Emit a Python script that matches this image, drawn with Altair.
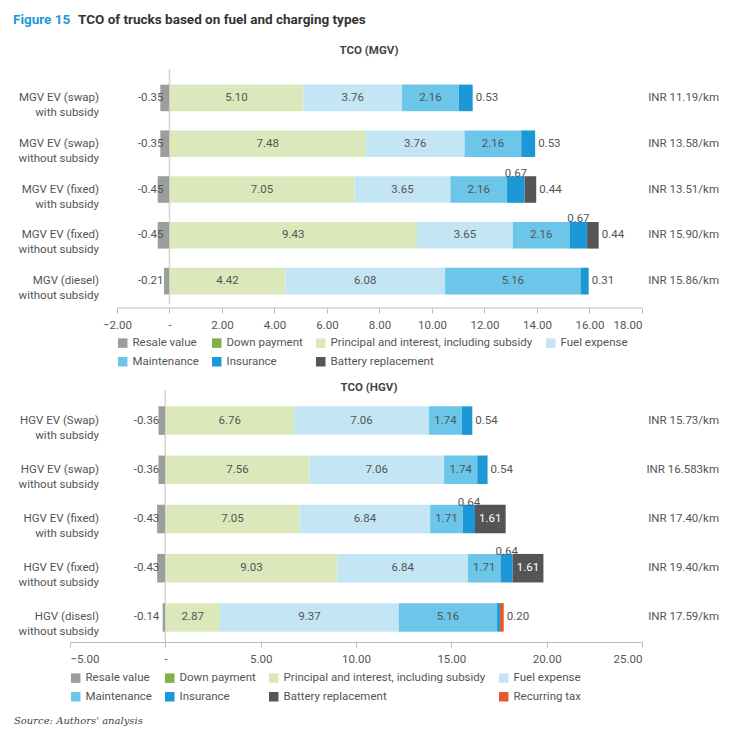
import altair as alt
import pandas as pd

FONT = "Roboto"
comps = ["Resale value", "Down payment", "Principal and interest, including subsidy",
         "Fuel expense", "Maintenance", "Insurance", "Battery replacement", "Recurring tax"]
colors = ["#9d9d9d", "#7cb342", "#dbe8bb", "#c3e5f4", "#6bc6ea", "#1b98d5", "#555555", "#e8592a"]

mgv_cats = ["MGV EV (swap)|with subsidy", "MGV EV (swap)|without subsidy", "MGV EV (fixed)|with subsidy",
            "MGV EV (fixed)|without subsidy", "MGV (diesel)|without subsidy"]
mgv_resale = [-0.35, -0.35, -0.45, -0.45, -0.21]
mgv_princ = [5.10, 7.48, 7.05, 9.43, 4.42]
mgv_fuel = [3.76, 3.76, 3.65, 3.65, 6.08]
mgv_maint = [2.16, 2.16, 2.16, 2.16, 5.16]
mgv_ins = [0.53, 0.53, 0.67, 0.67, 0.31]
mgv_batt = [0, 0, 0.44, 0.44, 0]
mgv_tax = [0, 0, 0, 0, 0]
mgv_total = ["INR 11.19/km", "INR 13.58/km", "INR 13.51/km", "INR 15.90/km", "INR 15.86/km"]

hgv_cats = ["HGV EV (Swap)|with subsidy", "HGV EV (swap)|without subsidy", "HGV EV (fixed)|with subsidy",
            "HGV EV (fixed)|without subsidy", "HGV (disesl)|without subsidy"]
hgv_resale = [-0.36, -0.36, -0.43, -0.43, -0.14]
hgv_princ = [6.76, 7.56, 7.05, 9.03, 2.87]
hgv_fuel = [7.06, 7.06, 6.84, 6.84, 9.37]
hgv_maint = [1.74, 1.74, 1.71, 1.71, 5.16]
hgv_ins = [0.54, 0.54, 0.64, 0.64, 0.15]
hgv_batt = [0, 0, 1.61, 1.61, 0]
hgv_tax = [0, 0, 0, 0, 0.20]
hgv_total = ["INR 15.73/km", "INR 16.583km", "INR 17.40/km", "INR 19.40/km", "INR 17.59/km"]


def build(cats, resale, princ, fuel, maint, ins, batt, tax):
    rows = []
    for i, c in enumerate(cats):
        vals = {"Resale value": resale[i], "Principal and interest, including subsidy": princ[i],
                "Fuel expense": fuel[i], "Maintenance": maint[i], "Insurance": ins[i],
                "Battery replacement": batt[i], "Recurring tax": tax[i]}
        for j, comp in enumerate(comps):
            v = vals.get(comp, 0)
            if v == 0:
                continue
            if comp == "Resale value":
                pos = "left"
            elif comp == "Insurance":
                pos = "above" if batt[i] > 0 else ("none" if tax[i] > 0 else "right")
            elif comp == "Battery replacement":
                pos = "right" if v < 1 else "inwhite"
            elif comp == "Recurring tax":
                pos = "right"
            else:
                pos = "in"
            rows.append({"cat": c, "comp": comp, "value": v, "order": j, "pos": pos,
                         "label": f"{v:.2f}"})
    return pd.DataFrame(rows)


def txt(t, x, y, **kw):
    return alt.Chart(pd.DataFrame({"t": [t]})).mark_text(**kw).encode(
        x=alt.value(x), y=alt.value(y), text="t:N")


def panel(title, cats, df, totals, dom, ticks, w, h, offset, base_extent, legend_x, legend_y, ncomp, footer=False):
    ysc = alt.Y("cat:N", sort=cats, axis=None, scale=alt.Scale(paddingInner=0.42, paddingOuter=0.21))
    xsc = alt.Scale(domain=dom, nice=False, zero=False)
    base = alt.Chart(df).transform_stack(
        stack="value", groupby=["cat"], as_=["v0", "v1"], sort=[alt.SortField("order")]
    ).transform_calculate(mid="(datum.v0 + datum.v1) / 2")
    bars = base.mark_bar().encode(
        x=alt.X("v0:Q", scale=xsc, axis=alt.Axis(
            values=ticks, domain=base_extent is None, domainColor="#bbbbbb", tickColor="#bbbbbb", grid=False,
            title=None, labelExpr="datum.value == 0 ? '-' : format(datum.value, '.2f')",
            labelFont=FONT, labelFontSize=11.5, labelColor="#555", offset=offset, labelPadding=6, tickSize=5)),
        x2="v1:Q", y=ysc,
        color=alt.Color("comp:N", scale=alt.Scale(domain=comps[:ncomp], range=colors[:ncomp]),
                        legend=alt.Legend(title=None, orient="none", legendX=legend_x, legendY=legend_y,
                                          columns=4, direction="horizontal", symbolType="square",
                                          symbolSize=90, symbolStrokeWidth=0, labelFont=FONT, labelFontSize=11.5,
                                          labelColor="#555", columnPadding=12, rowPadding=6, labelLimit=0)),
    )
    tprops = dict(font=FONT, fontSize=11.5)
    t_in = base.transform_filter("datum.pos == 'in'").mark_text(color="#555", **tprops).encode(
        x="mid:Q", y=ysc, text="label:N")
    t_white = base.transform_filter("datum.pos == 'inwhite'").mark_text(color="white", **tprops).encode(
        x="mid:Q", y=ysc, text="label:N")
    t_right = base.transform_filter("datum.pos == 'right'").mark_text(color="#555", align="left", dx=3, **tprops).encode(
        x="v1:Q", y=ysc, text="label:N")
    t_left = base.transform_filter("datum.pos == 'left'").mark_text(color="#555", align="right", dx=-6, **tprops).encode(
        x="v0:Q", y=ysc, text="label:N")
    t_above = base.transform_filter("datum.pos == 'above'").mark_text(color="#555", dy=-16, **tprops).encode(
        x="mid:Q", y=ysc, text="label:N")
    zero = alt.Chart(pd.DataFrame({"z": [0]})).mark_rule(color="#d5d5d5", strokeWidth=1.5).encode(
        x=alt.X("z:Q", scale=xsc), y=alt.value(-6), y2=alt.value(h))
    lab_df = pd.DataFrame({"cat": cats, "total": totals})
    catlab = alt.Chart(lab_df).transform_calculate(lines="split(datum.cat, '|')").mark_text(
        align="right", color="#555", lineHeight=15, **tprops).encode(
        x=alt.value(29), y=ysc, text="lines:N")
    totlab = alt.Chart(lab_df).mark_text(align="right", color="#555", **tprops).encode(
        x=alt.value(w + 77), y=ysc, text="total:N")
    layers = [zero, bars, t_in, t_white, t_right, t_left, t_above, catlab, totlab,
              txt(title, w / 2 + 13, -24 if not footer else -8, font=FONT, fontSize=11.5,
                  fontWeight="bold", color="#444")]
    if base_extent is not None:
        layers.append(alt.Chart(pd.DataFrame({"a": [base_extent[0]], "b": [base_extent[1]]})).mark_rule(
            color="#bbbbbb").encode(x=alt.X("a:Q", scale=xsc), x2="b:Q", y=alt.value(h + offset)))
    if footer:
        layers.append(txt("Source: Authors' analysis", -56, h + 79, align="left", font="DejaVu Serif",
                          fontStyle="italic", fontSize=10, color="#444"))
    else:
        layers.append(txt("Figure 15", -57, -55, align="left", font=FONT, fontWeight="bold",
                          fontSize=13.5, color="#1a9ad6"))
        layers.append(txt("TCO of trucks based on fuel and charging types", 8, -55, align="left", font=FONT,
                          fontWeight="bold", fontSize=13.5, color="#333"))
    return alt.layer(*layers).properties(width=w, height=h)


df_m = build(mgv_cats, mgv_resale, mgv_princ, mgv_fuel, mgv_maint, mgv_ins, mgv_batt, mgv_tax)
df_h = build(hgv_cats, hgv_resale, hgv_princ, hgv_fuel, hgv_maint, hgv_ins, hgv_batt, hgv_tax)

top = panel("TCO (MGV)", mgv_cats, df_m, mgv_total, [-3.79, 18], [-2, 0, 2, 4, 6, 8, 10, 12, 14, 16, 18],
            572, 229, 4, (-2, 18), 47, 262, 7)
bot = panel("TCO (HGV)", hgv_cats, df_h, hgv_total, [-5, 25], [-5, 0, 5, 10, 15, 20, 25],
            572, 246, 0, None, 0, 276, 8, footer=True)

chart = alt.vconcat(top, bot, spacing=14).resolve_scale(
    color="independent", x="independent", y="independent"
).configure(background="white").configure_view(stroke=None)
chart.save("out.html", embed_options={"renderer": "svg", "actions": False})
